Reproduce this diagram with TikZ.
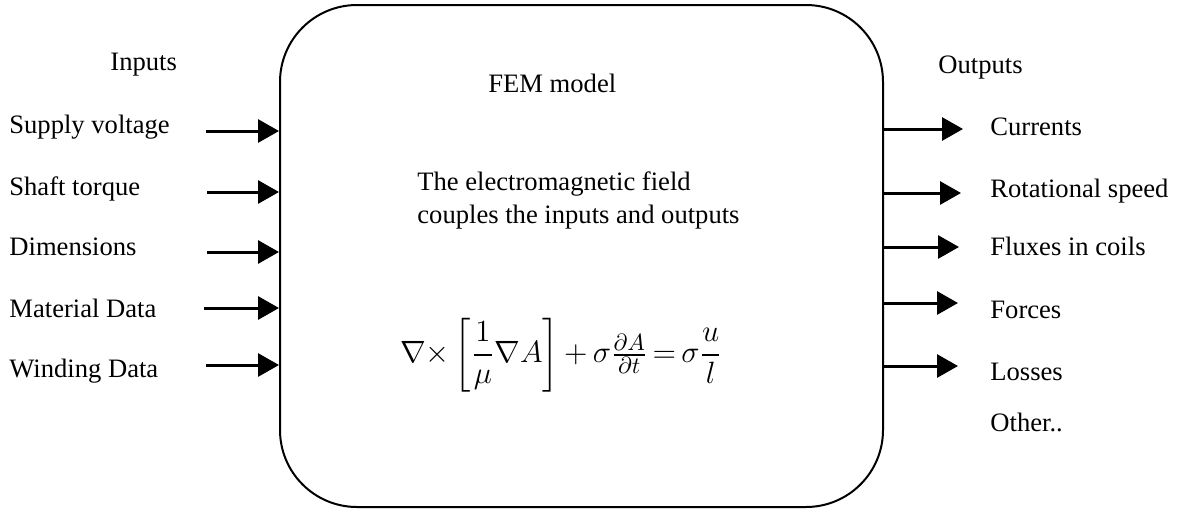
\documentclass[tikz,border=0pt]{standalone}
\usepackage{amsmath}
\usepackage{fontspec}
\setmainfont{Liberation Serif}
\usetikzlibrary{arrows.meta}

\begin{document}
\begin{tikzpicture}[x=0.5pt, y=-0.5pt, font=\fontsize{13.3}{15}\selectfont,
    flow/.style={-{Triangle[length=10.5pt,width=11.5pt]}, line width=1.5pt},
    lbl/.style={anchor=base west, inner sep=0pt}]

    \useasboundingbox (0,0) rectangle (1182,509);

    % FEM block
    \node (fem) [draw, line width=1pt, rounded corners=38.5pt, inner sep=0pt,
        minimum width=301.5pt, minimum height=251pt] at (581.5,256) {};

    % Headings
    \node (inhead) [lbl] at (110,70) {Inputs};
    \node (outhead) [lbl] at (938,73) {Outputs};
    \node (femhead) [lbl] at (488,92) {FEM model};

    % Text and field equation inside the block
    \node (desc) [lbl, align=left, font=\fontsize{13.3}{16.5}\selectfont] at (417,223)
        {The electromagnetic field\\couples the inputs and outputs};
    \node (eqn) [font=\fontsize{15}{18}\selectfont] at (561,355)
        {\scalebox{1.07}{$\nabla{\times}\left[\dfrac{1}{\mu}\nabla A\right]{+}\,\sigma\tfrac{\partial A}{\partial t}\,{=}\,\sigma\dfrac{u}{l}$}};

    % Inputs (label, start of arrow, arrow height, baseline)
    \foreach \i/\label/\x/\y/\b in {
        1/Supply voltage/206/131/133,
        2/Shaft torque/207/192/195,
        3/Dimensions/207/252/255,
        4/Material Data/204/308/317,
        5/Winding Data/206/365/377
    }
    {
        \node (in\i) [lbl] at (9,\b) {\label};
        \coordinate (a\i) at (\x,\y);
        \draw[flow] (a\i) -- (a\i -| fem.west);
    }

    % Outputs (label, arrow tip, arrow height, baseline)
    \foreach \i/\label/\x/\y/\b in {
        1/Currents/963/129/135,
        2/Rotational speed/961/193/197,
        3/Fluxes in coils/959/247/255,
        4/Forces/958/303/318,
        5/Losses/958/366/380
    }
    {
        \node (out\i) [lbl] at (990,\b) {\label};
        \coordinate (b\i) at (\x,\y);
        \draw[flow] (b\i -| fem.east) -- (b\i);
    }
    \node (out6) [lbl] at (990,431) {Other..};

\end{tikzpicture}
\end{document}
